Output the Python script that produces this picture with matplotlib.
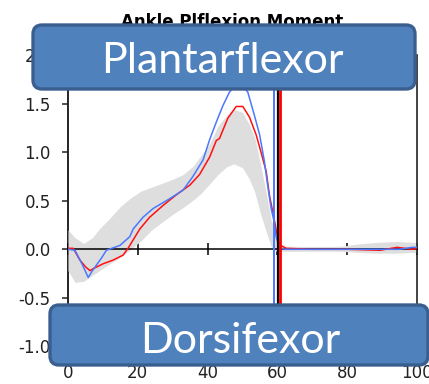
import matplotlib
matplotlib.use("Agg")
import matplotlib.pyplot as plt
from matplotlib.patches import FancyBboxPatch

# gait cycle (%) and ankle moment values
red_x = [0, 1.5, 3.4, 5, 6.3, 7.2, 10, 13, 15.8, 17.2, 20.6, 23.4, 27.2, 31, 34.9, 37.7,
         40.6, 42.5, 43.4, 45.8, 48.2, 50.1, 52, 53.9, 55.3, 56.8, 57.7, 58.7, 59.6,
         60.3, 61, 62.5, 70, 80, 89.4, 94.3, 98.7, 100]
red_y = [0.01, 0.01, -0.11, -0.18, -0.22, -0.20, -0.15, -0.11, -0.06, 0.01, 0.21, 0.33,
         0.45, 0.56, 0.66, 0.77, 0.95, 1.12, 1.14, 1.35, 1.47, 1.47, 1.36, 1.18, 1.0,
         0.80, 0.56, 0.38, 0.21, 0.08, 0.04, 0.01, 0.0, 0.0, -0.01, 0.02, 0.0, 0.01]

blue_x = [0, 2, 4, 5.8, 7, 8.2, 9.6, 11, 14.9, 17.7, 18.7, 21.5, 24.4, 29.1, 33, 35.8,
          38.7, 40.6, 42.5, 44.4, 46.3, 48.9, 51.5, 53.4, 54.9, 56.3, 57.2, 58.2, 59.1,
          59.5, 60.5, 62, 80, 95, 98.6, 100]
blue_y = [0.0, -0.01, -0.15, -0.29, -0.22, -0.16, -0.09, -0.01, 0.04, 0.13, 0.21, 0.33,
          0.42, 0.52, 0.61, 0.75, 0.92, 1.13, 1.31, 1.48, 1.62, 1.72, 1.62, 1.38, 1.18,
          0.90, 0.66, 0.42, 0.28, 0.15, 0.02, 0.0, 0.0, 0.0, 0.02, 0.02]

band_x = [0, 2, 4.5, 7, 9, 12, 15, 18, 21, 24, 27, 30, 33, 36, 38, 40.5, 43, 45.5, 47.5,
          50, 52, 53.5, 55.3, 56.8, 58.2, 59.6, 60, 62, 70, 78, 82, 88, 94, 100]
band_hi = [0.20, 0.12, 0.06, 0.12, 0.21, 0.32, 0.44, 0.53, 0.60, 0.64, 0.68, 0.72, 0.77,
           0.86, 0.96, 1.08, 1.27, 1.38, 1.44, 1.41, 1.28, 1.15, 0.85, 0.58, 0.30, 0.18,
           0.05, 0.03, 0.03, 0.03, 0.05, 0.07, 0.08, 0.07]
band_lo = [-0.22, -0.34, -0.33, -0.27, -0.22, -0.15, -0.08, 0.0, 0.09, 0.20, 0.28, 0.36,
           0.43, 0.51, 0.57, 0.67, 0.77, 0.85, 0.88, 0.84, 0.72, 0.59, 0.35, 0.18, 0.03,
           -0.02, -0.02, -0.02, -0.02, -0.02, -0.03, -0.04, -0.04, -0.03]

# toe-off markers
toe_off_norm = 60.1
toe_off_red = 60.8
toe_off_blue = 58.9

xticks = [0, 20, 40, 60, 80, 100]
yticks = [-1.0, -0.5, 0.0, 0.5, 1.0, 1.5, 2.0]

fig = plt.figure(figsize=(4.29, 3.84), dpi=100)
ax = fig.add_axes([68/429, 23/384, 349/429, 306/384])

ax.fill_between(band_x, band_lo, band_hi, color='#dedede', lw=0, zorder=2)
ax.plot(red_x, red_y, color='#ff1010', lw=1.1, zorder=4)
ax.plot(blue_x, blue_y, color='#4a78ff', lw=1.1, zorder=5)
ax.axvline(toe_off_blue, color='#4a78ff', lw=1.4, zorder=6)
ax.axvline(toe_off_norm, color='black', lw=1.6, zorder=6)
ax.axvline(toe_off_red, color='#ff0000', lw=2.0, zorder=6)

ax.set_xlim(0, 100)
ax.set_ylim(-1.15, 2.0)
ax.set_yticks(yticks)
ax.set_yticklabels(['%.1f' % v for v in yticks])

ax.spines['top'].set_visible(False)
ax.spines['left'].set_zorder(1)
ax.spines['left'].set_linewidth(1.2)
ax.spines['right'].set_linewidth(1.2)
ax.spines['right'].set_color('#222222')
ax.spines['bottom'].set_position(('data', 0))
ax.spines['bottom'].set_linewidth(1.1)
ax.spines['bottom'].set_zorder(3)
ax.set_xticks(xticks)
ax.tick_params(axis='x', direction='inout', length=8, width=1.1, labelbottom=False)
ax.tick_params(axis='y', direction='out', length=4.5, width=1.1, pad=8, labelsize=12,
               colors='#222222')

sec = ax.secondary_xaxis('bottom')
sec.set_xticks(xticks)
sec.spines['bottom'].set_visible(False)
sec.tick_params(length=0, pad=2, labelsize=12, colors='#222222')

ax.set_title('Ankle Plflexion Moment', fontsize=12, fontweight='bold', x=0.47, pad=20)

# callout boxes
def callout(x0, y0, x1, y1, label, tx, ty):
    box = FancyBboxPatch((x0, y0), x1 - x0, y1 - y0,
                         boxstyle='round,pad=0,rounding_size=9',
                         fc='#4f81bd', ec='#3a5f8f', lw=2.4, transform=None, zorder=10)
    fig.add_artist(box)
    fig.text(tx/429, ty/384, label, ha='center', va='baseline', color='white',
             fontsize=31, family='Lato', zorder=11)

callout(33, 295, 415, 359, 'Plantarflexor', 222, 311)
callout(50, 19, 428, 79, 'Dorsifexor', 240, 31)

fig.savefig('out.png', dpi=100)
